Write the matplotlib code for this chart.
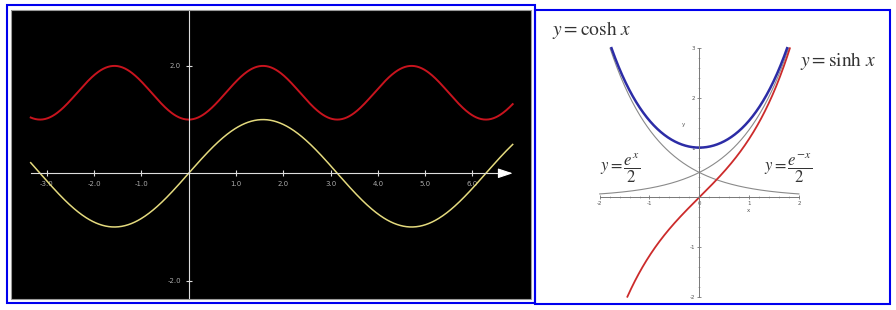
import numpy as np
import matplotlib.pyplot as plt
from matplotlib.patches import Rectangle
from matplotlib.ticker import FixedLocator

plt.rcParams["mathtext.fontset"] = "stix"
plt.rcParams["axes.unicode_minus"] = False

W, H = 896, 310

# left panel: y = sin x (yellow) and y = 1 + sin^2 x (red)
trig_range = [-3.34, 6.85]
trig_xticks = [-3, -2, -1, 1, 2, 3, 4, 5, 6]
trig_xlabels = ["-3.0", "-2.0", "-1.0", "1.0", "2.0", "3.0", "4.0", "5.0", "6.0"]
trig_yticks = [-2, 2]
trig_ylabels = ["-2.0", "2.0"]

# right panel: hyperbolic curves, each drawn until it leaves the box
cosh_range = [-1.763, 1.763]
sinh_range = [-1.444, 1.818]
exp_pos_range = [-2.0, 1.792]
exp_neg_range = [-1.792, 2.0]
hyp_xticks = [-2, -1, 0, 1, 2]
hyp_yticks = [-2, -1, 1, 2, 3]


def px_box(x0, y0, x1, y1):
    # pixel box (top-left origin) -> figure fraction [l, b, w, h]
    return [x0 / W, 1 - y1 / H, (x1 - x0) / W, (y1 - y0) / H]


def frame(x0, y0, x1, y1, color, lw, z):
    l, b, w, h = px_box(x0, y0, x1, y1)
    fig.add_artist(Rectangle((l, b), w, h, transform=fig.transFigure,
                             fill=False, ec=color, lw=lw, zorder=z))


fig = plt.figure(figsize=(W / 100, H / 100), dpi=100)

# ---- left panel ----
ax1 = fig.add_axes(px_box(11.4, 9.5, 531, 299))
ax1.set_facecolor("black")
ax1.set_xlim(-3.748, 7.237)
ax1.set_ylim(-2.341, 3.050)

x = np.linspace(trig_range[0], trig_range[1], 600)
ax1.plot(x, 1 + np.sin(x) ** 2, color="#c8141e", lw=1.4)
ax1.plot(x, np.sin(x), color="#e4da7e", lw=1.1)

for side in ["top", "right"]:
    ax1.spines[side].set_visible(False)
for side in ["left", "bottom"]:
    ax1.spines[side].set_position(("data", 0))
    ax1.spines[side].set_color("#dddddd")
    ax1.spines[side].set_linewidth(0.8)
ax1.spines["bottom"].set_bounds(trig_range[0], 6.6)
ax1.annotate("", xy=(trig_range[1], 0), xytext=(6.55, 0),
             arrowprops=dict(arrowstyle="-|>,head_length=0.9,head_width=0.3",
                             color="white", lw=0.8, shrinkA=0, shrinkB=0))

ax1.set_xticks(trig_xticks, trig_xlabels)
ax1.set_yticks(trig_yticks, trig_ylabels)
ax1.tick_params(direction="inout", length=4.3, width=0.8, color="#dddddd",
                labelcolor="#aaaaaa", labelsize=5, pad=3.4)

# ---- right panel ----
ax2 = fig.add_axes(px_box(535.5, 10, 889.5, 303.5))
ax2.set_facecolor("white")
ax2.set_xlim(-3.289, 3.819)
ax2.set_ylim(-2.137, 3.769)

xe = np.linspace(exp_pos_range[0], exp_pos_range[1], 300)
ax2.plot(xe, np.exp(xe) / 2, color="#8a8a8a", lw=0.8)
xe = np.linspace(exp_neg_range[0], exp_neg_range[1], 300)
ax2.plot(xe, np.exp(-xe) / 2, color="#8a8a8a", lw=0.8)
xs = np.linspace(sinh_range[0], sinh_range[1], 300)
ax2.plot(xs, np.sinh(xs), color="#cc2b2b", lw=1.3)
xc = np.linspace(cosh_range[0], cosh_range[1], 300)
ax2.plot(xc, np.cosh(xc), color="#2c2ca6", lw=1.8)

for side in ["top", "right"]:
    ax2.spines[side].set_visible(False)
for side in ["left", "bottom"]:
    ax2.spines[side].set_position(("data", 0))
    ax2.spines[side].set_color("#777777")
    ax2.spines[side].set_linewidth(0.7)
ax2.spines["bottom"].set_bounds(-2, 2)
ax2.spines["left"].set_bounds(-2, 3)

ax2.set_xticks(hyp_xticks)
ax2.set_yticks(hyp_yticks)
ax2.xaxis.set_minor_locator(FixedLocator(np.arange(-2, 2.01, 0.2)))
ax2.yaxis.set_minor_locator(FixedLocator(np.arange(-2, 3.01, 0.2)))
ax2.tick_params(which="major", direction="inout", length=3, width=0.6,
                color="#777777", labelcolor="#555555", labelsize=4)
ax2.tick_params(which="minor", direction="inout", length=1.5, width=0.4,
                color="#888888")
ax2.tick_params(axis="x", pad=1.0)
ax2.tick_params(axis="y", pad=1.6)
ax2.text(0.98, -0.26, "x", fontsize=4, color="#555555", ha="center", va="center")
ax2.text(-0.32, 1.47, "y", fontsize=4, color="#555555", ha="center", va="center")

label_color = "#333333"
fig.text(551.7 / W, 1 - 35 / H, r"$y = \cosh\,x$", fontsize=14,
         color=label_color, va="baseline")
fig.text(800 / W, 1 - 66 / H, r"$y = \sinh\,x$", fontsize=14,
         color=label_color, va="baseline")
fig.text(600 / W, 1 - 168 / H, r"$y = \dfrac{e^{x}}{2}$", fontsize=12,
         color=label_color, va="center")
fig.text(764 / W, 1 - 168 / H, r"$y = \dfrac{e^{-x}}{2}$", fontsize=12,
         color=label_color, va="center")

# panel frames
frame(11.4, 9.5, 531, 299, "#9a9a9a", 0.8, 5)
frame(7, 5, 534.5, 302.5, "#0000ee", 1.5, 10)
frame(534.5, 10, 889.5, 303.5, "#0000ee", 1.5, 10)

fig.savefig("out.png", dpi=100)
